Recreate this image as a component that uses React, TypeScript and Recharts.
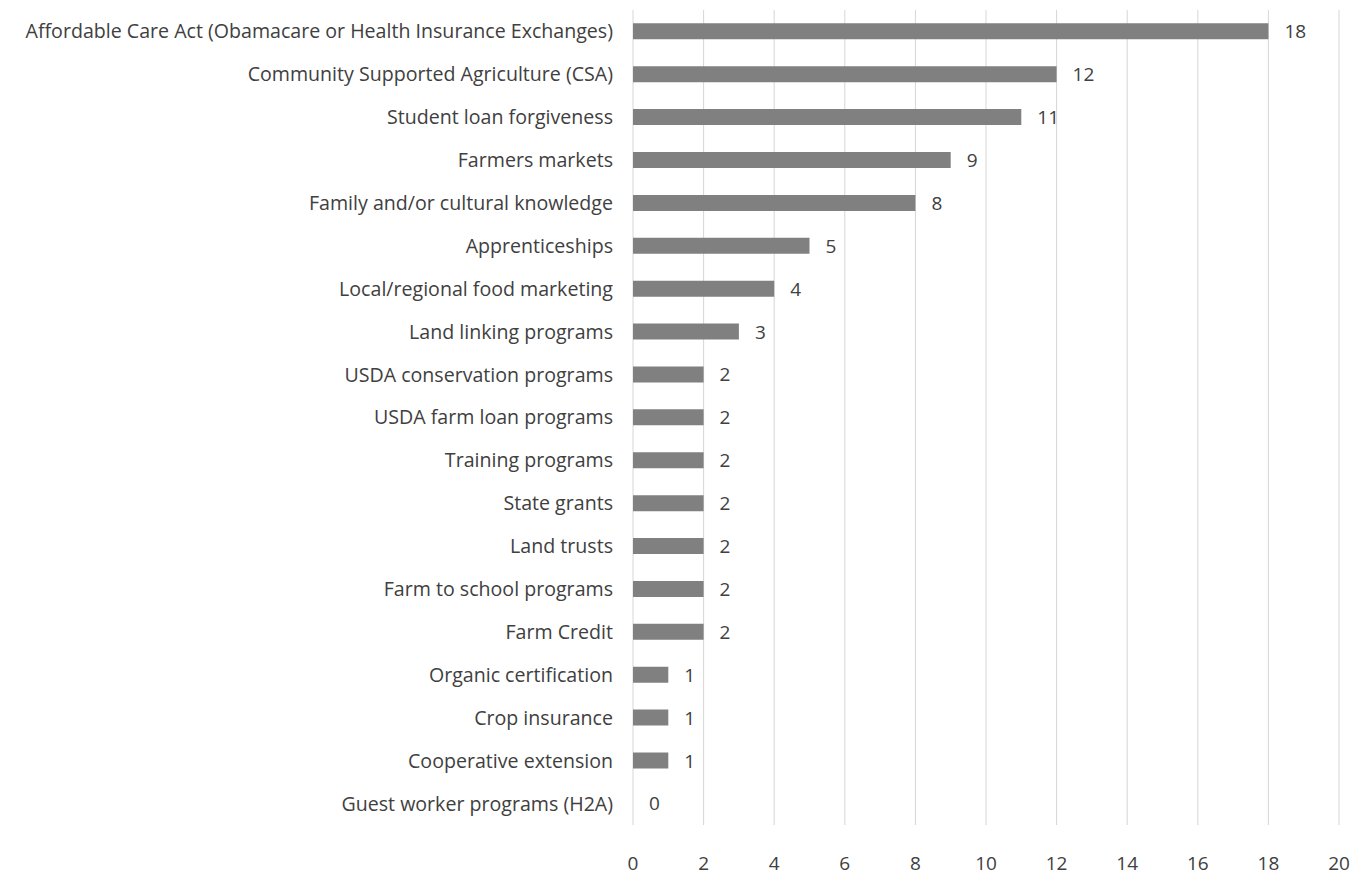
import { BarChart, Bar, XAxis, YAxis, CartesianGrid, LabelList } from 'recharts';

const programs = [
  'Affordable Care Act (Obamacare or Health Insurance Exchanges)',
  'Community Supported Agriculture (CSA)',
  'Student loan forgiveness',
  'Farmers markets',
  'Family and/or cultural knowledge',
  'Apprenticeships',
  'Local/regional food marketing',
  'Land linking programs',
  'USDA conservation programs',
  'USDA farm loan programs',
  'Training programs',
  'State grants',
  'Land trusts',
  'Farm to school programs',
  'Farm Credit',
  'Organic certification',
  'Crop insurance',
  'Cooperative extension',
  'Guest worker programs (H2A)',
];

const counts = [18, 12, 11, 9, 8, 5, 4, 3, 2, 2, 2, 2, 2, 2, 2, 1, 1, 1, 0];

const xTicks = [0, 2, 4, 6, 8, 10, 12, 14, 16, 18, 20];

const data = programs.map((name, i) => ({ name, count: counts[i] }));

const font = '"Open Sans", sans-serif';
const textColor = '#404040';

// value label drawn by hand so the zero bar still gets its "0"
const ValueLabel = (props: any) => {
  const { x, y, width, height, value } = props;
  return (
    <text
      x={Number(x) + Number(width) + 16}
      y={Number(y) + Number(height) / 2}
      dominantBaseline="central"
      fill={textColor}
      fontSize={19}
      fontFamily={font}
    >
      {value}
    </text>
  );
};

export default function App() {
  return (
    <div style={{ position: 'fixed', left: 0, top: 0, background: '#fff' }}>
      <BarChart
        width={1372}
        height={896}
        data={data}
        layout="vertical"
        margin={{ top: 10, right: 33, bottom: 0, left: 0 }}
        barCategoryGap="31%"
      >
        <CartesianGrid horizontal={false} vertical stroke="#d6d6d6" strokeWidth={1} />
        <XAxis
          type="number"
          domain={[0, 20]}
          ticks={xTicks}
          interval={0}
          axisLine={false}
          tickLine={false}
          height={71}
          tickMargin={26}
          tick={{ fill: textColor, fontSize: 19, fontFamily: font }}
        />
        <YAxis
          type="category"
          dataKey="name"
          width={633}
          interval={0}
          axisLine={false}
          tickLine={false}
          tickMargin={14}
          tick={{ fill: textColor, fontSize: 19.6, fontFamily: font }}
        />
        <Bar
          dataKey="count"
          fill="#808080"
          minPointSize={(v: number) => (v === 0 ? 0.01 : 0)}
          isAnimationActive={false}
        >
          <LabelList dataKey="count" content={ValueLabel} />
        </Bar>
      </BarChart>
    </div>
  );
}
